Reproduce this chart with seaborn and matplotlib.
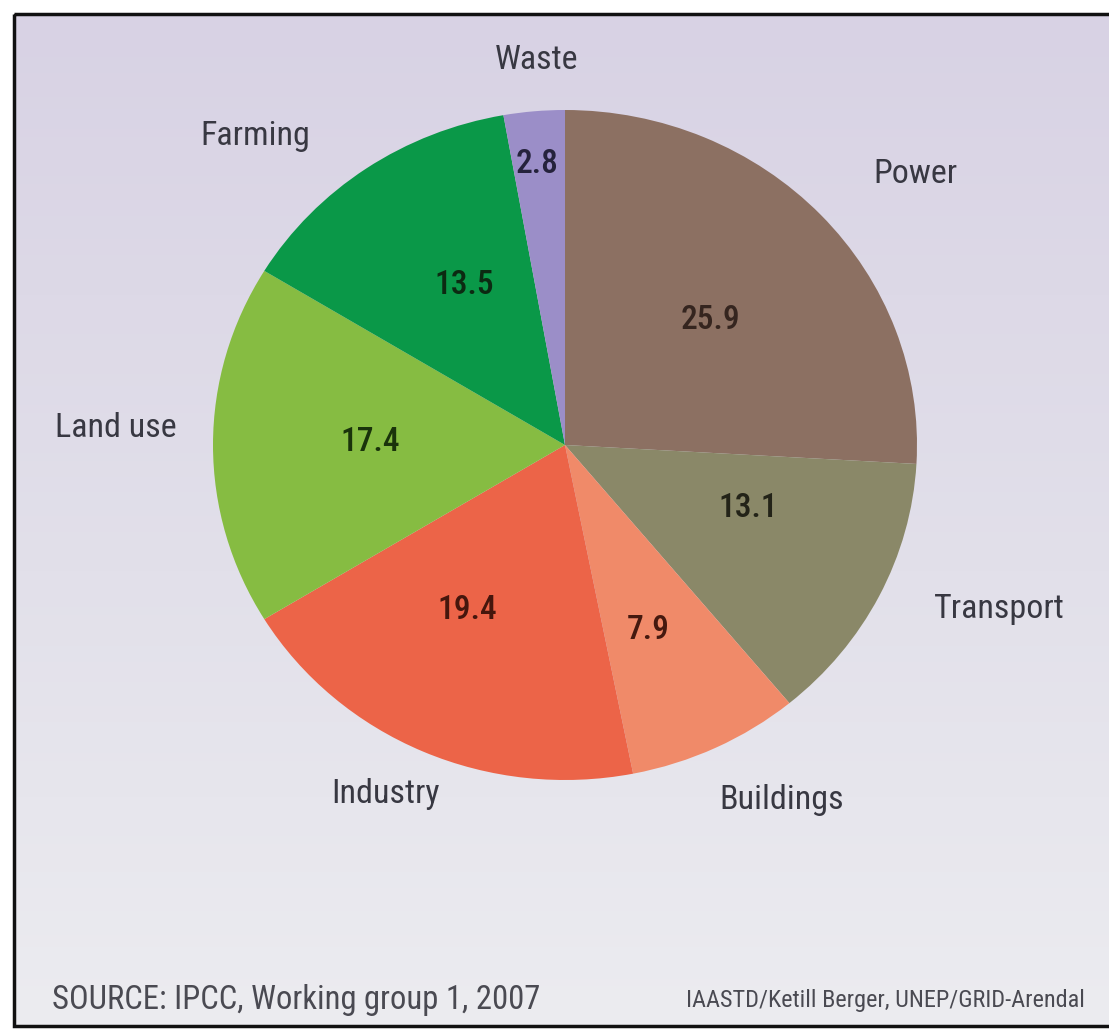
import numpy as np
import matplotlib
matplotlib.use("Agg")
import matplotlib.pyplot as plt
import seaborn as sns
from matplotlib import font_manager as fm
from matplotlib.colors import LinearSegmentedColormap
from matplotlib.patches import Rectangle

# ---- data ----
sectors = ["Power", "Transport", "Buildings", "Industry", "Land use", "Farming", "Waste"]
shares = [25.9, 13.1, 7.9, 19.4, 17.4, 13.5, 2.8]
value_labels = ["25.9", "13.1", "7.9", "19.4", "17.4", "13.5", "2.8"]
slice_colors = ["#8C7062", "#8A8868", "#F08A69", "#EC6448", "#86BC42", "#0A9848", "#9B8EC8"]
number_colors = ["#35251F", "#232318", "#45190F", "#45160D", "#1A330B", "#0C2A12", "#25223C"]
source_text = "SOURCE: IPCC, Working group 1, 2007"
credit_text = "IAASTD/Ketill Berger, UNEP/GRID-Arendal"

# ---- layout (pixels in a 1109x1030 canvas) ----
W, H = 1109, 1030
cx, cy, rx, ry = 565, 445, 352, 335
name_pos = [(915, 174), (999, 609), (782, 800), (386, 794), (116, 428), (255, 136), (537, 60)]
num_pos = [(710, 320), (748, 508), (648, 630), (467, 610), (370, 442), (464, 285), (537, 164)]

sns.set_theme(style="white")
names = {f.name for f in fm.fontManager.ttflist}
fam = "Liberation Sans"
for cand in ["Roboto Condensed", "Liberation Sans Narrow", "Open Sans Condensed", "Roboto"]:
    if cand in names:
        fam = cand
        break
plt.rcParams["font.family"] = [fam, "DejaVu Sans"]

fig = plt.figure(figsize=(W / 100, H / 100), dpi=100)
fig.patch.set_facecolor("white")

# background gradient
bg = fig.add_axes([0, 0, 1, 1])
bg.set_xlim(0, W)
bg.set_ylim(H, 0)
bg.axis("off")
cmap = LinearSegmentedColormap.from_list(
    "bgc", [(0, "#D8D2E4"), (0.55, "#E2E0EA"), (1, "#ECECF0")])
grad = np.linspace(0, 1, 256).reshape(-1, 1)
bg.imshow(grad, cmap=cmap, extent=[14, W, 1026, 14], aspect="auto", zorder=0)
bg.add_patch(Rectangle((14, 14), W - 14 + 5, 1026 - 14, fill=False,
                       edgecolor="#111111", linewidth=2.5, zorder=2))

# pie
ax = fig.add_axes([(cx - rx) / W, 1 - (cy + ry) / H, 2 * rx / W, 2 * ry / H])
ax.pie(shares, colors=slice_colors, startangle=90, counterclock=False,
       radius=1, wedgeprops=dict(linewidth=0))
ax.set_aspect("auto")
ax.set_xlim(-1, 1)
ax.set_ylim(-1, 1)
ax.axis("off")
ax.patch.set_alpha(0)

for name, (px, py) in zip(sectors, name_pos):
    fig.text(px / W, 1 - py / H, name, ha="center", va="center",
             fontsize=24.5, color="#383842")
for lab, (px, py), c in zip(value_labels, num_pos, number_colors):
    fig.text(px / W, 1 - py / H, lab, ha="center", va="center",
             fontsize=24, color=c, fontweight="medium")

fig.text(52 / W, 1 - 1000 / H, source_text, ha="left", va="center",
         fontsize=23.5, color="#4A4A52")
fig.text(1085 / W, 1 - 1000 / H, credit_text, ha="right", va="center",
         fontsize=17.5, color="#4A4A52")

fig.savefig("out.png", dpi=100)
